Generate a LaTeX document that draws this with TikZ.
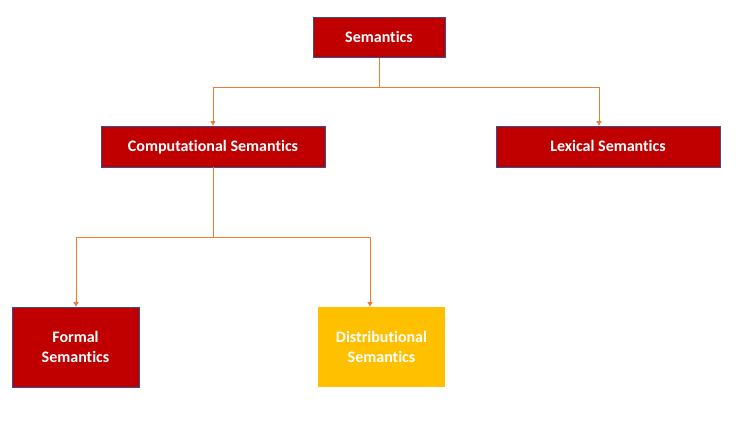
\documentclass[tikz,border=0pt]{standalone}
\usepackage{fontspec}
\setmainfont{Carlito}[Ligatures=NoCommon]
\usetikzlibrary{positioning,arrows.meta}
\definecolor{boxred}{HTML}{C00000}
\definecolor{boxgold}{HTML}{FFC000}
\definecolor{boxedge}{HTML}{2F528F}
\definecolor{linkorange}{HTML}{ED7D31}

\begin{document}
\begin{tikzpicture}[x=1pt, y=-1pt,
        redbox/.style={draw=boxedge, line width=0.8pt, fill=boxred, text=white, font=\bfseries\fontsize{16}{20}\selectfont, align=center, inner sep=0pt},
        goldbox/.style={redbox, draw=none, fill=boxgold},
        link/.style={draw=linkorange, line width=0.8pt, -{Triangle[width=5pt,length=4.5pt]}}]
        \useasboundingbox (0,0) rectangle (741,432);

        \node[redbox, minimum width=132pt, minimum height=40pt, text height=11pt, text depth=2pt] (sem) at (379, 37.5) {Semantics};
        \node[redbox, minimum width=224pt, minimum height=41pt, text height=11pt, text depth=2pt] (comp) at (213, 146.5) {Computational Semantics};
        \node[redbox, minimum width=224pt, minimum height=41pt, text height=11pt, text depth=2pt] (lex) at (608, 146.5) {Lexical Semantics};
        \node[redbox, minimum width=127pt, minimum height=80pt] (formal) at (75.5, 347) {Formal\\Semantics};
        \node[goldbox, minimum width=127pt, minimum height=80pt] (dist) at (381.5, 347) {Distributional\\Semantics};

        \coordinate (top split) at (379, 87);
        \coordinate (low split) at (213, 237);

        \draw[link] (sem.south) -- (top split) -| (comp.north);
        \draw[link] (top split) -| ([xshift=-9pt]lex.north);
        \draw[link] (comp.south) -- (low split) -| ([xshift=0.5pt]formal.north);
        \draw[link] (low split) -| ([xshift=-11.5pt]dist.north);
    \end{tikzpicture}
\end{document}
